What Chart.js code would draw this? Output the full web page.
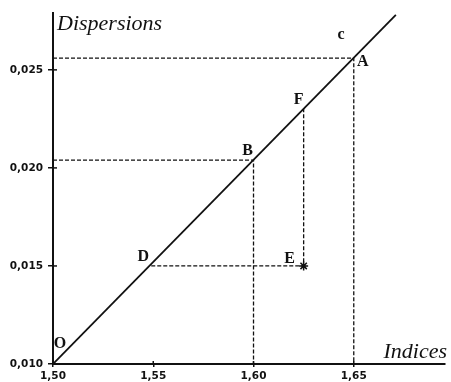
<!DOCTYPE html>
<html>
<head>
<meta charset="utf-8">
<script src="https://cdn.jsdelivr.net/npm/chart.js@4"></script>
<style>
  html, body { margin: 0; padding: 0; background: #fff; }
  #wrap { width: 451px; height: 382px; }
</style>
</head>
<body>
<div id="wrap"><canvas id="chart" width="451" height="382"></canvas></div>
<script>
// Dispersions vs Indices - straight line O..A with construction points

// axis ticks
const xTicks = [1.50, 1.55, 1.60, 1.65];
const yTicks = [0.010, 0.015, 0.020, 0.025];

// the straight line through O, D, B, F, A
const lineX = [1.50, 1.671];
const lineY = [0.010, 0.0278];

// named points
const pointNames = ['O', 'D', 'B', 'F', 'A', 'E'];
const pointX = [1.50, 1.549, 1.60, 1.625, 1.65, 1.625];
const pointY = [0.010, 0.015, 0.0204, 0.0231, 0.0256, 0.015];

// the small "c" above the line
const markText = ['c'];
const markX = [1.6436];
const markY = [0.0268];

const xMin = 1.50, xMax = 1.6955;
const yMin = 0.010, yMax = 0.0279;

function pt(name) {
    const i = pointNames.indexOf(name);
    return { x: pointX[i], y: pointY[i] };
}

// dashed construction lines
const guideA = [{ x: xMin, y: pt('A').y }, pt('A'), { x: pt('A').x, y: yMin }];
const guideB = [{ x: xMin, y: pt('B').y }, pt('B'), { x: pt('B').x, y: yMin }];
const guideDEF = [pt('D'), pt('E'), pt('F')];

const dashed = {
    type: 'line',
    borderColor: '#111',
    borderWidth: 1.3,
    borderDash: [4, 2],
    pointRadius: 0,
    fill: false,
    tension: 0
};

// where each letter sits relative to its point (px)
const labelOffset = {
    O: [7, -20], D: [-8, -9], B: [-6, -9], F: [-5, -7], A: [9, 4], E: [-14, -7]
};

const labelPlugin = {
    id: 'labels',
    afterDatasetsDraw(chart) {
        const ctx = chart.ctx;
        const xs = chart.scales.x, ys = chart.scales.y;
        const area = chart.chartArea;
        ctx.save();
        ctx.fillStyle = '#111';

        // inner half of the tick marks
        ctx.strokeStyle = '#111';
        ctx.lineWidth = 1.5;
        yTicks.forEach(v => {
            const py = ys.getPixelForValue(v);
            ctx.beginPath();
            ctx.moveTo(area.left, py);
            ctx.lineTo(area.left + 4, py);
            ctx.stroke();
        });
        xTicks.forEach(v => {
            const px = xs.getPixelForValue(v);
            ctx.beginPath();
            ctx.moveTo(px, area.bottom);
            ctx.lineTo(px, area.bottom - 3);
            ctx.stroke();
        });

        // point letters
        ctx.font = 'bold 16px "Liberation Serif"';
        ctx.textAlign = 'center';
        ctx.textBaseline = 'middle';
        pointNames.forEach((n, i) => {
            const off = labelOffset[n];
            ctx.fillText(n, xs.getPixelForValue(pointX[i]) + off[0], ys.getPixelForValue(pointY[i]) + off[1]);
        });
        markText.forEach((t, i) => {
            ctx.fillText(t, xs.getPixelForValue(markX[i]), ys.getPixelForValue(markY[i]));
        });

        // axis titles inside the plot
        ctx.font = 'italic 22px "Liberation Serif"';
        ctx.textBaseline = 'alphabetic';
        ctx.textAlign = 'left';
        ctx.fillText('Dispersions', area.left + 4, area.top + 17);
        ctx.textAlign = 'right';
        ctx.fillText('Indices', area.right + 2, area.bottom - 6);
        ctx.restore();
    }
};

const ctx = document.getElementById('chart').getContext('2d');

new Chart(ctx, {
    type: 'scatter',
    data: {
        datasets: [
            Object.assign({ data: guideA }, dashed),
            Object.assign({ data: guideB }, dashed),
            Object.assign({ data: guideDEF }, dashed),
            {
                type: 'line',
                data: lineX.map((x, i) => ({ x: x, y: lineY[i] })),
                borderColor: '#111',
                borderWidth: 1.8,
                pointRadius: 0,
                fill: false
            },
            {
                data: pointX.map((x, i) => ({ x: x, y: pointY[i] })),
                pointStyle: 'star',
                pointRadius: ctx => pointNames[ctx.dataIndex] === 'E' ? 4.5 : 0,
                borderColor: '#111',
                borderWidth: 1.5,
                backgroundColor: '#111'
            }
        ]
    },
    options: {
        responsive: false,
        animation: false,
        layout: { padding: { top: 13, right: 3, left: 0, bottom: 0 } },
        plugins: {
            legend: { display: false },
            tooltip: { enabled: false }
        },
        scales: {
            x: {
                type: 'linear',
                min: xMin,
                max: xMax,
                afterBuildTicks: scale => { scale.ticks = xTicks.map(v => ({ value: v })); },
                afterFit: scale => { scale.height = 18; },
                border: { color: '#111', width: 2 },
                grid: { drawOnChartArea: false, tickLength: 3, color: '#111', lineWidth: 1.5 },
                ticks: {
                    padding: 3,
                    color: '#111',
                    font: { family: 'DejaVu Sans', size: 10.5, weight: 'bold' },
                    callback: v => v.toFixed(2).replace('.', ',')
                }
            },
            y: {
                type: 'linear',
                min: yMin,
                max: yMax,
                afterBuildTicks: scale => { scale.ticks = yTicks.map(v => ({ value: v })); },
                afterFit: scale => { scale.width = 53; },
                border: { color: '#111', width: 2 },
                grid: { drawOnChartArea: false, tickLength: 5, color: '#111', lineWidth: 1.5 },
                ticks: {
                    padding: 5,
                    color: '#111',
                    font: { family: 'DejaVu Sans', size: 10.5, weight: 'bold' },
                    callback: v => v.toFixed(3).replace('.', ',')
                }
            }
        }
    },
    plugins: [labelPlugin]
});
</script>
</body>
</html>
